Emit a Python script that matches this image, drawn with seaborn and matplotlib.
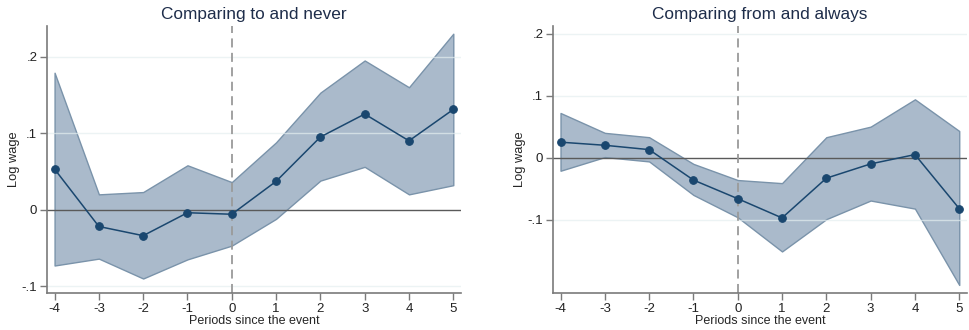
import numpy as np
import pandas as pd
import matplotlib
matplotlib.use("Agg")
import matplotlib.pyplot as plt
import seaborn as sns

periods = [-4, -3, -2, -1, 0, 1, 2, 3, 4, 5]

# Panel 1: comparing to and never
est_never = [0.053, -0.022, -0.034, -0.004, -0.006, 0.037, 0.095, 0.125, 0.090, 0.131]
hi_never = [0.179, 0.020, 0.023, 0.058, 0.036, 0.088, 0.153, 0.195, 0.160, 0.230]
lo_never = [-0.073, -0.064, -0.090, -0.065, -0.047, -0.012, 0.038, 0.056, 0.020, 0.032]

# Panel 2: comparing from and always
est_always = [0.025, 0.020, 0.013, -0.036, -0.066, -0.097, -0.033, -0.010, 0.005, -0.082]
hi_always = [0.072, 0.040, 0.033, -0.010, -0.036, -0.041, 0.033, 0.050, 0.094, 0.043]
lo_always = [-0.021, 0.001, -0.006, -0.060, -0.096, -0.151, -0.099, -0.069, -0.082, -0.205]

titles = ["Comparing to and never", "Comparing from and always"]
ytick_vals = [[-0.1, 0.0, 0.1, 0.2], [-0.1, 0.0, 0.1, 0.2]]
ytick_labels = [["-.1", "0", ".1", ".2"], ["-.1", "0", ".1", ".2"]]
ylims = [(-0.109, 0.240), (-0.218, 0.212)]

sns.set_theme(style="white")
plt.rcParams["font.family"] = ["Liberation Sans", "DejaVu Sans"]

NAVY = "#1a476f"
FILL = "#aabacb"
EDGE = "#7a93aa"

fig = plt.figure(figsize=(9.7, 3.3), dpi=100)
positions = [[0.0485, 0.112, 0.4268, 0.809], [0.5701, 0.112, 0.4268, 0.809]]

panels = [(est_never, lo_never, hi_never), (est_always, lo_always, hi_always)]
for i, (est, lo, hi) in enumerate(panels):
    ax = fig.add_axes(positions[i])
    df = pd.DataFrame({"period": periods, "est": est, "lo": lo, "hi": hi})

    ax.fill_between(df["period"], df["lo"], df["hi"], facecolor=FILL,
                    edgecolor=EDGE, linewidth=1.0, zorder=1)
    for v in ytick_vals[i]:
        if v != 0:
            ax.axhline(v, color="#e4eef0", linewidth=1.0, alpha=0.7, zorder=2)
    ax.axhline(0, color="#5a5a5a", linewidth=1.0, zorder=2)
    ax.axvline(0, color="#9a9a9a", linewidth=1.3, linestyle=(0, (5, 3)), zorder=2)

    sns.lineplot(data=df, x="period", y="est", ax=ax, color=NAVY, linewidth=1.1,
                 marker="o", markersize=5.5, markeredgecolor=NAVY,
                 markerfacecolor=NAVY, zorder=3)

    ax.set_xlim(-4.17, 5.175)
    ax.set_ylim(*ylims[i])
    ax.set_xticks(periods)
    ax.set_xticklabels([str(p) for p in periods], fontsize=9.5)
    ax.set_yticks(ytick_vals[i])
    ax.set_yticklabels(ytick_labels[i], fontsize=9.5)
    ax.set_xlabel("Periods since the event", fontsize=9, labelpad=0)
    ax.set_ylabel("Log wage", fontsize=9.3, labelpad=1)
    ax.set_title(titles[i], fontsize=12.4, color="#1e2d4a", pad=5)

    for side in ["top", "right"]:
        ax.spines[side].set_visible(False)
    for side in ["left", "bottom"]:
        ax.spines[side].set_color("#7a7a7a")
        ax.spines[side].set_linewidth(1.2)
    ax.tick_params(axis="both", which="both", length=5, width=1,
                   color="#7a7a7a", direction="out", pad=2,
                   left=True, bottom=True, labelcolor="#222222")
    ax.grid(False)

fig.savefig("out.png", dpi=100, facecolor="white")
